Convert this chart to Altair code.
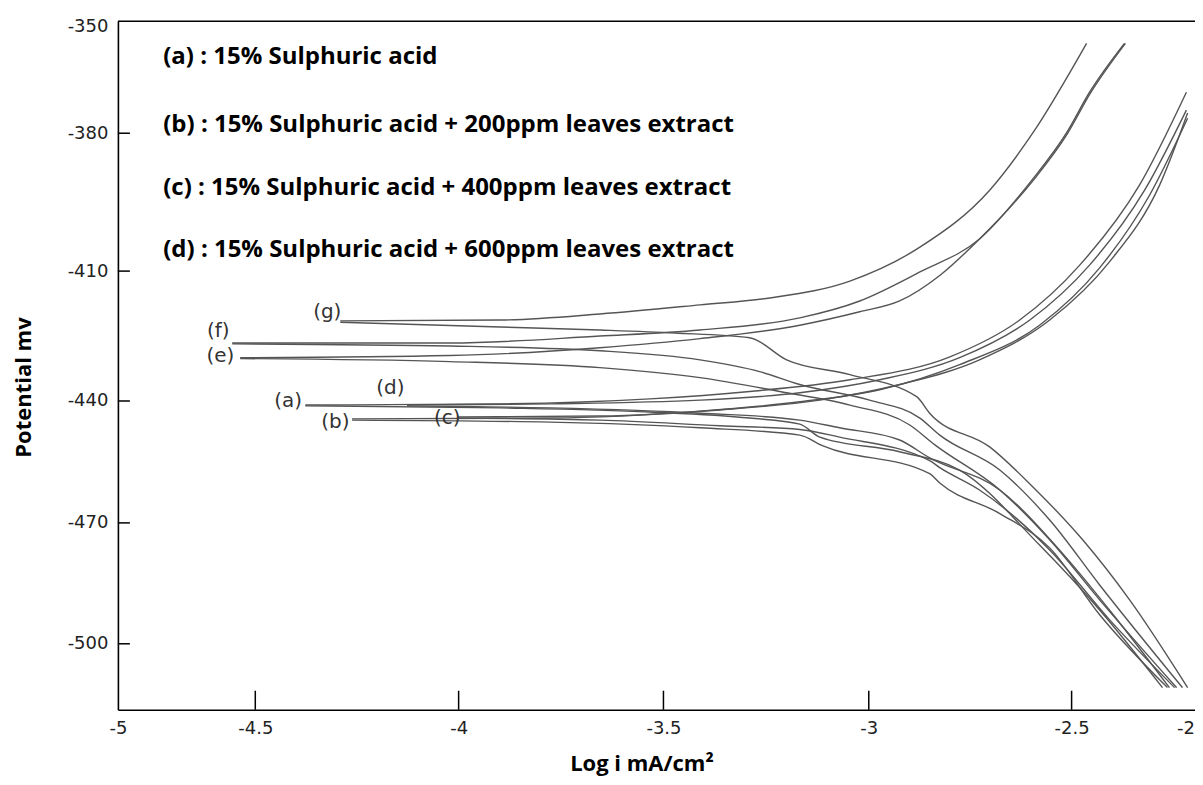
import altair as alt
import pandas as pd

# ---------------- data ----------------
x_tick_values = [-5, -4.5, -4, -3.5, -3, -2.5, -2]
y_tick_values = [-350, -380, -410, -440, -470, -500]

g_anodic_x = [-4.291, -3.899, -3.655, -3.411, -3.241, -3.046, -2.874, -2.702, -2.596, -2.439]
g_anodic_y = [-421.5, -421.3, -419.9, -417.8, -416.2, -412.3, -404.8, -392.4, -380.0, -355.9]
g_cathodic_x = [-4.291, -3.899, -3.655, -3.472, -3.290, -3.200, -3.046, -2.882, -2.850, -2.702, -2.596, -2.455, -2.264, -2.028]
g_cathodic_y = [-421.8, -422.9, -423.6, -424.3, -425.4, -430.5, -433.9, -439.0, -443.0, -451.3, -461.1, -474.2, -489.1, -510.9]

f_anodic_x = [-4.584, -4.021, -3.655, -3.411, -3.168, -3.022, -2.874, -2.727, -2.596, -2.513, -2.427, -2.285]
f_anodic_y = [-426.6, -426.6, -425.0, -423.6, -420.8, -416.9, -410.2, -403.0, -390.0, -380.0, -369.0, -355.9]
f_cathodic_x = [-4.584, -4.021, -3.655, -3.411, -3.266, -3.168, -2.998, -2.874, -2.825, -2.677, -2.554, -2.386, -2.049]
f_cathodic_y = [-426.8, -427.3, -428.4, -430.5, -433.2, -436.2, -439.8, -444.2, -448.4, -457.0, -469.3, -485.4, -510.9]

e_anodic_x = [-4.555, -4.021, -3.655, -3.411, -3.168, -3.022, -2.924, -2.825, -2.727, -2.594, -2.511, -2.423, -2.281]
e_anodic_y = [-430.0, -429.5, -427.7, -425.6, -422.5, -419.4, -416.9, -411.0, -403.0, -390.2, -380.2, -369.2, -355.9]
e_cathodic_x = [-4.555, -4.021, -3.655, -3.411, -3.217, -3.046, -2.899, -2.837, -2.677, -2.554, -2.386, -2.073]
e_cathodic_y = [-430.2, -430.9, -432.3, -434.6, -437.8, -441.0, -445.9, -450.8, -461.9, -474.2, -489.1, -510.9]

a_anodic_x = [-4.377, -3.899, -3.533, -3.290, -3.046, -2.800, -2.628, -2.467, -2.224, -2.033]
a_anodic_y = [-441.0, -440.7, -439.5, -437.8, -435.1, -429.8, -421.3, -408.7, -391.3, -369.0]
a_cathodic_x = [-4.377, -3.899, -3.533, -3.290, -3.168, -3.119, -2.924, -2.776, -2.579, -2.386, -2.130]
a_cathodic_y = [-441.2, -441.7, -442.7, -444.2, -445.7, -448.9, -452.5, -457.0, -475.5, -491.6, -510.9]

d_anodic_x = [-4.127, -3.777, -3.411, -3.168, -2.973, -2.776, -2.603, -2.427, -2.203, -2.033]
d_anodic_y = [-441.0, -440.7, -439.8, -438.1, -435.1, -430.0, -421.3, -408.7, -392.4, -373.8]
d_cathodic_x = [-4.127, -3.777, -3.411, -3.168, -3.071, -2.924, -2.850, -2.677, -2.530, -2.346, -2.102]
d_cathodic_y = [-441.2, -441.7, -443.0, -444.7, -446.6, -449.6, -454.0, -461.9, -476.7, -491.6, -510.9]

b_anodic_x = [-4.262, -3.777, -3.411, -3.168, -2.973, -2.776, -2.579, -2.386, -2.183, -2.028]
b_anodic_y = [-444.4, -444.2, -442.5, -440.2, -437.4, -431.6, -422.5, -409.3, -393.5, -376.0]
b_cathodic_x = [-4.262, -3.777, -3.411, -3.168, -3.113, -2.850, -2.825, -2.677, -2.554, -2.386, -2.110]
b_cathodic_y = [-444.7, -445.2, -446.6, -448.4, -451.0, -457.9, -460.2, -467.7, -476.2, -492.8, -510.9]

c_anodic_x = [-4.001, -3.655, -3.363, -3.119, -2.924, -2.727, -2.554, -2.346, -2.142, -2.028]
c_anodic_y = [-443.9, -443.7, -442.2, -439.8, -436.2, -430.5, -421.3, -408.0, -391.3, -374.6]
c_cathodic_x = [-4.001, -3.655, -3.363, -3.168, -3.071, -2.850, -2.825, -2.727, -2.554, -2.346, -2.081]
c_cathodic_y = [-444.2, -444.7, -446.1, -447.0, -448.9, -454.7, -456.4, -461.9, -476.7, -494.0, -510.9]

curve_labels = ["(g)", "(f)", "(e)", "(a)", "(d)", "(b)", "(c)"]
curve_label_x = [-4.323, -4.635, -4.627, -4.419, -4.168, -4.303, -4.028]
curve_label_y = [-419.5, -423.8, -429.5, -440.0, -437.0, -445.2, -444.2]

legend_lines = [
    "(a) : 15% Sulphuric acid",
    "(b) : 15% Sulphuric acid + 200ppm leaves extract",
    "(c) : 15% Sulphuric acid + 400ppm leaves extract",
    "(d) : 15% Sulphuric acid + 600ppm leaves extract",
]
legend_x = [-4.835, -4.835, -4.835, -4.835]
legend_y = [-359.6, -377.9, -392.0, -405.4]

# ---------------- assemble tables ----------------
series = {
    ("g", "anodic"): (g_anodic_x, g_anodic_y),
    ("g", "cathodic"): (g_cathodic_x, g_cathodic_y),
    ("f", "anodic"): (f_anodic_x, f_anodic_y),
    ("f", "cathodic"): (f_cathodic_x, f_cathodic_y),
    ("e", "anodic"): (e_anodic_x, e_anodic_y),
    ("e", "cathodic"): (e_cathodic_x, e_cathodic_y),
    ("a", "anodic"): (a_anodic_x, a_anodic_y),
    ("a", "cathodic"): (a_cathodic_x, a_cathodic_y),
    ("d", "anodic"): (d_anodic_x, d_anodic_y),
    ("d", "cathodic"): (d_cathodic_x, d_cathodic_y),
    ("b", "anodic"): (b_anodic_x, b_anodic_y),
    ("b", "cathodic"): (b_cathodic_x, b_cathodic_y),
    ("c", "anodic"): (c_anodic_x, c_anodic_y),
    ("c", "cathodic"): (c_cathodic_x, c_cathodic_y),
}
rows = []
for (name, branch), (xs, ys) in series.items():
    for i, (xv, yv) in enumerate(zip(xs, ys)):
        rows.append({"curve": name + "-" + branch, "order": i, "logi": xv, "pot": yv})
curves_df = pd.DataFrame(rows)

labels_df = pd.DataFrame({"label": curve_labels, "logi": curve_label_x, "pot": curve_label_y})
legend_df = pd.DataFrame({"text": legend_lines, "logi": legend_x, "pot": legend_y})
xticks_df = pd.DataFrame({"logi": x_tick_values[1:-1]})
yticks_df = pd.DataFrame({"pot": y_tick_values[1:]})
top_df = pd.DataFrame({"pot": [y_tick_values[0]]})

W, H = 1078, 689
x_scale = alt.Scale(domain=x_tick_values,
                    range=[0, 137.5, 341, 546, 751.5, 954.5, 1077.5],
                    nice=False, zero=False)
y_scale = alt.Scale(domain=[-516.4, -500, -470, -440, -410, -380, -350],
                    range=[689, 623, 502, 380, 250, 112, 0],
                    nice=False, zero=False)

X = alt.X("logi:Q", scale=x_scale,
          axis=alt.Axis(values=x_tick_values, title="Log i mA/cm²", ticks=False,
                        labelExpr="'' + datum.value",
                        labelAlign={"expr": "datum.value == -2 ? 'right' : 'center'"},
                        labelPadding=10, labelFont="DejaVu Sans", labelFontSize=18,
                        labelColor="#222222", labelFlush=False, labelOverlap=False,
                        titleFont="Open Sans", titleFontWeight="bold", titleFontSize=22,
                        titleColor="#000000",
                        titleX=524, titleY=66, titleBaseline="bottom"))
Y = alt.Y("pot:Q", scale=y_scale,
          axis=alt.Axis(values=y_tick_values, title="Potential  mv", ticks=False,
                        labelExpr="'' + datum.value",
                        labelOffset={"expr": "datum.value == -350 ? 5 : 0"},
                        labelPadding=10, labelFont="DejaVu Sans", labelFontSize=18,
                        labelColor="#222222", labelOverlap=False, labelFlush=False,
                        titleFont="Open Sans", titleFontWeight="bold", titleFontSize=22,
                        titleColor="#000000",
                        titleX=-94, titleY=366, titleAngle=270,
                        titleBaseline="middle", titleAlign="center"))

lines = alt.Chart(curves_df).mark_line(color="#555555", strokeWidth=1.4,
                                       interpolate="monotone").encode(
    x=X, y=Y, detail="curve:N", order="order:Q")

labels = alt.Chart(labels_df).mark_text(font="DejaVu Sans", fontSize=20,
                                        color="#333333").encode(
    x=alt.X("logi:Q", scale=x_scale), y=alt.Y("pot:Q", scale=y_scale), text="label:N")

legend = alt.Chart(legend_df).mark_text(font="Open Sans", fontSize=24, fontWeight="bold",
                                        align="left", baseline="middle",
                                        color="#000000").encode(
    x=alt.X("logi:Q", scale=x_scale), y=alt.Y("pot:Q", scale=y_scale), text="text:N")

xticks = alt.Chart(xticks_df).mark_rule(color="#000000", strokeWidth=1.5).encode(
    x=alt.X("logi:Q", scale=x_scale), y=alt.value(H), y2=alt.value(H - 19))
yticks = alt.Chart(yticks_df).mark_rule(color="#000000", strokeWidth=1.5).encode(
    y=alt.Y("pot:Q", scale=y_scale), x=alt.value(0), x2=alt.value(12))
top = alt.Chart(top_df).mark_rule(color="#000000", strokeWidth=1.6).encode(
    y=alt.Y("pot:Q", scale=y_scale), x=alt.value(0), x2=alt.value(W))

chart = alt.layer(lines, labels, legend, xticks, yticks, top).properties(
    width=W, height=H,
    autosize=alt.AutoSizeParams(type="none"),
    padding={"left": 110, "top": 13, "right": 0, "bottom": 67},
).configure_view(stroke=None).configure_axis(
    domainColor="#000000", domainWidth=1.6, grid=False
)

chart.save("out.html", embed_options={"renderer": "svg", "actions": False})
